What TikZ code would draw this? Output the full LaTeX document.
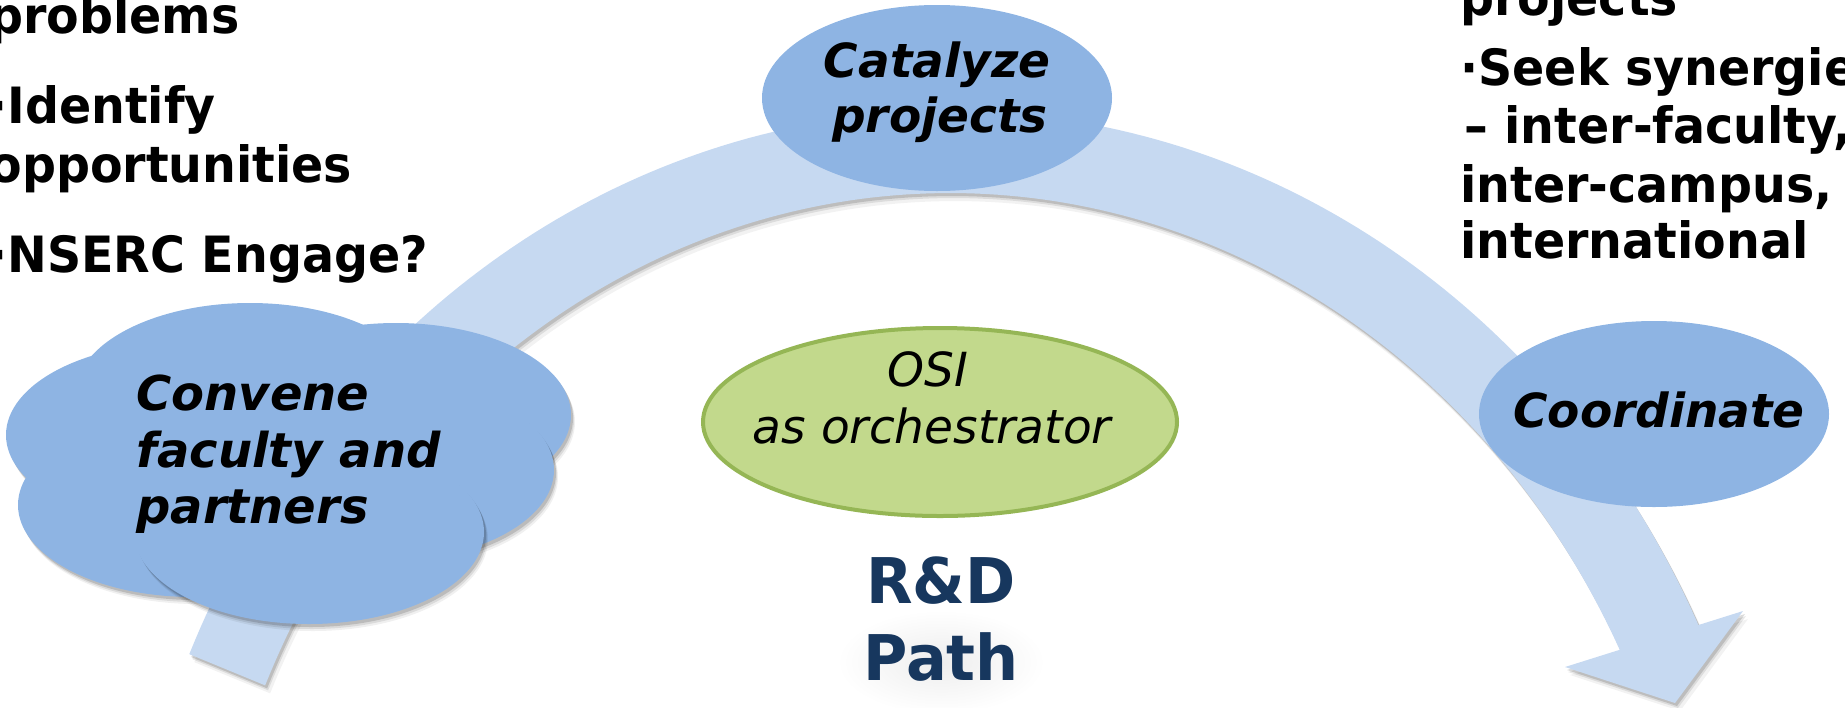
\documentclass[tikz,border=0pt]{standalone}
\usepackage{fontspec}
\setmainfont{DejaVu Sans}
\newfontfamily\bulL[FakeStretch=0.95]{DejaVu Sans}
\newfontfamily\elA{DejaVu Sans}
\newfontfamily\rdF[FakeStretch=0.96]{DejaVu Sans}
\definecolor{bandc}{HTML}{C6D9F1}
\definecolor{ellc}{HTML}{8EB4E3}
\definecolor{osifill}{HTML}{C2D98C}
\definecolor{osiline}{HTML}{95B655}
\definecolor{navy}{HTML}{17375E}
\usetikzlibrary{shapes.geometric}
\tikzset{
  leftline/.style={anchor=base west, inner sep=0pt, font=\bulL\bfseries\fontsize{25pt}{30pt}\selectfont},
  elltextA/.style={anchor=base, inner sep=0pt, font=\elA\bfseries\itshape\fontsize{23.5pt}{28pt}\selectfont},
  elltextB/.style={anchor=base west, inner sep=0pt, font=\elA\bfseries\itshape\fontsize{24pt}{28pt}\selectfont},
  ositext/.style={anchor=base, inner sep=0pt, font=\elA\itshape\fontsize{23.5pt}{27pt}\selectfont},
  rdtext/.style={anchor=base, inner sep=0pt, text=navy, font=\rdF\bfseries\fontsize{31.5pt}{36pt}\selectfont},
  blueell/.style={ellipse, fill=ellc, inner sep=0pt, minimum width=175pt, minimum height=93pt},
  osiell/.style={ellipse, fill=osifill, draw=osiline, line width=2pt, inner sep=0pt, minimum width=237pt, minimum height=94pt},
  bandline/.style={line width=41pt, line cap=butt},
}
\begin{document}
\begin{tikzpicture}[x=0.5pt,y=-0.5pt]
\useasboundingbox (0,0) rectangle (1845,707);
\clip (0,0) rectangle (1845,707);

% ---- curved band arrow: shadow layers ----
\foreach \dx/\dy/\op in {5/8/0.05, 3/5/0.09, 2/3/0.14}{
  \begin{scope}[shift={(\dx,\dy)}]
    \draw[bandline, black, opacity=\op] plot[domain=203.8:335.5, samples=150] ({950+790*cos(\x)}, {1020+868*sin(\x)});
    \fill[black, opacity=\op] (1565,667) -- (1743,611) -- (1675,703) -- cycle;
  \end{scope}
}
% ---- curved band arrow ----
\draw[bandline, bandc] plot[domain=203.8:335.5, samples=150] ({950+790*cos(\x)}, {1020+868*sin(\x)});
\coordinate (hl) at (1565,667);
\coordinate (hr) at (1743,611);
\coordinate (ht) at (1675,703);
\fill[bandc] (hl) -- (hr) -- (ht) -- cycle;

% ---- cloud of ellipses ----
\foreach \cx/\cy in {250/395, 396/415, 181/435, 379/470, 193/505, 309/532}{
  \foreach \dx/\dy/\op in {4/7/0.06, 3/5/0.09, 2/3/0.14}{
    \fill[black, opacity=\op] (\cx+\dx,\cy+\dy) ellipse [x radius=87.5pt, y radius=46pt];
  }
  \fill[ellc] (\cx,\cy) ellipse [x radius=87.5pt, y radius=46pt];
}

% ---- ellipses with text ----
\node[blueell] (cat) at (937,98) {};
\node[blueell] (coord) at (1654,414) {};
\node[osiell] (osi) at (940,422) {};

\node[elltextA] (cat1) at (937,77) {Catalyze};
\node[elltextA] (cat2) at (940,132) {projects};
\node[elltextA] (coo1) at (1659,427) {Coordinate};

\node[elltextB] (con1) at (136,410) {Convene};
\node[elltextB] (con2) at (136,467) {faculty and};
\node[elltextB] (con3) at (136,523) {partners};

\node[ositext] (osi1) at (928,386) {OSI};
\node[ositext] (osi2) at (932,443) {as orchestrator};

% faint glow behind the title
\shade[inner color=black!7, outer color=white] (941,662) ellipse [x radius=52pt, y radius=26pt];
\node[rdtext] (rd1) at (941,603) {R\&D};
\node[rdtext] (rd2) at (941,680) {Path};

% ---- left bullet text ----
\node[leftline] (l1) at (-11,33) {problems};
\node[leftline] (l2) at (-11,123) {·Identify};
\node[leftline] (l3) at (-11,182) {opportunities};
\node[leftline] (l4) at (-11,272) {·NSERC Engage?};

% ---- right bullet text ----
\node[leftline] (r1) at (1460,15) {projects};
\node[leftline] (r2) at (1460,85) {·Seek synergies};
\node[leftline] (r3) at (1464,143) {– inter-faculty,};
\node[leftline] (r4) at (1460,202) {inter-campus,};
\node[leftline] (r5) at (1460,258) {international};
\end{tikzpicture}
\end{document}
